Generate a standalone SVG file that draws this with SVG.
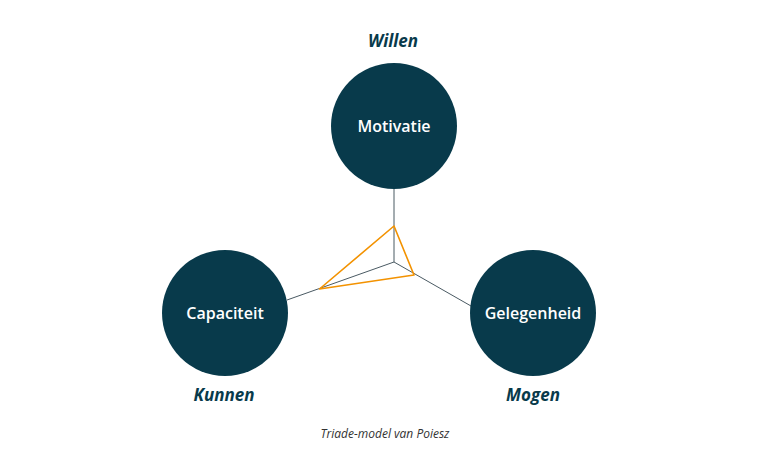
<svg xmlns="http://www.w3.org/2000/svg" width="770" height="462" viewBox="0 0 770 462">
<style>
.node{fill:#083a4b}
.lbl{font-family:"Open Sans","Liberation Sans",sans-serif;font-size:16px;font-weight:600;fill:#ffffff;text-anchor:middle}
.tag{font-family:"Open Sans","Liberation Sans",sans-serif;font-size:17px;font-weight:700;font-style:italic;fill:#083a4b;text-anchor:middle}
.cap{font-family:"Open Sans","Liberation Sans",sans-serif;font-size:12px;font-style:italic;fill:#333333;text-anchor:middle}
.conn{stroke:#4a5a63;stroke-width:1;fill:none}
</style>
<rect width="770" height="462" fill="#ffffff"/>
<g id="connectors">
<line class="conn" x1="394" y1="189" x2="394" y2="262"/>
<line class="conn" x1="394" y1="262" x2="287" y2="300"/>
<line class="conn" x1="394" y1="262" x2="471" y2="306"/>
<polygon points="394,226 414,275 319.5,289" fill="none" stroke="#f39200" stroke-width="1.6" stroke-linejoin="round"/>
</g>
<g id="motivatie">
<circle class="node" cx="394" cy="126" r="63"/>
<text class="lbl" x="394" y="132">Motivatie</text>
</g>
<g id="capaciteit">
<circle class="node" cx="225" cy="313" r="63"/>
<text class="lbl" x="225" y="319">Capaciteit</text>
</g>
<g id="gelegenheid">
<circle class="node" cx="533" cy="313" r="63"/>
<text class="lbl" x="533" y="319">Gelegenheid</text>
</g>
<text class="tag" x="393" y="47">Willen</text>
<text class="tag" x="224" y="401">Kunnen</text>
<text class="tag" x="533" y="401">Mogen</text>
<text class="cap" x="385" y="438">Triade-model van Poiesz</text>
</svg>
